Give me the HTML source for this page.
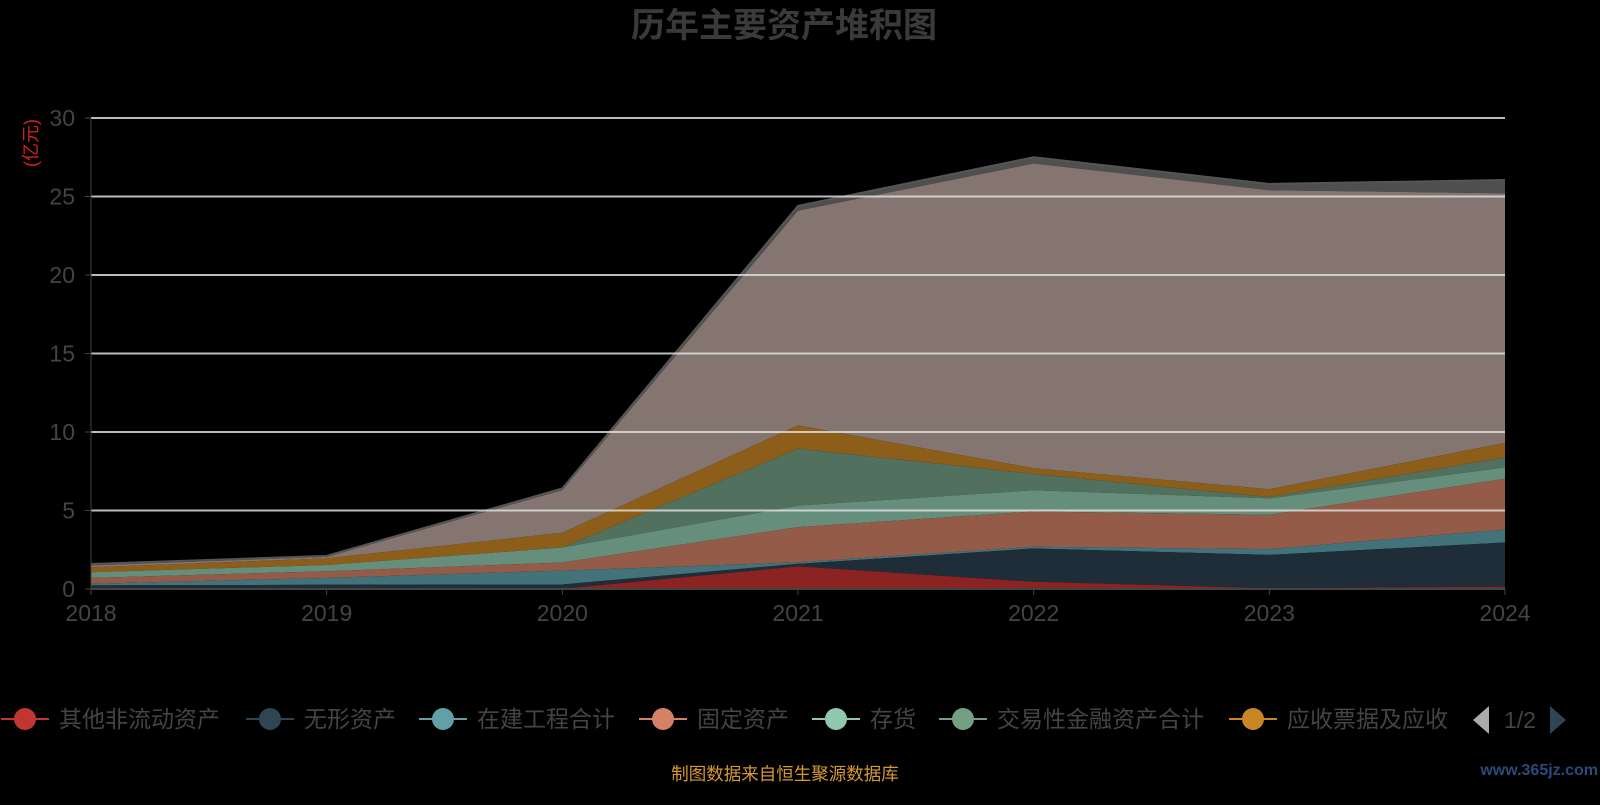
<!DOCTYPE html>
<html><head><meta charset="utf-8"><style>
body{margin:0;background:#000;width:1600px;height:800px;overflow:hidden;font-family:"Liberation Sans","Noto Sans CJK SC",sans-serif}
</style></head><body>
<svg id="s" width="1600" height="800" xmlns="http://www.w3.org/2000/svg" font-family="Liberation Sans, Noto Sans CJK SC, sans-serif">
<text x="784" y="37" text-anchor="middle" font-size="34" font-weight="bold" fill="#3a3a3a">历年主要资产堆积图</text>
<text transform="translate(37,143) rotate(-90)" text-anchor="middle" font-size="18" fill="#d42020">(亿元)</text>
<g id="areas"></g>
<g id="grid"></g>
<text x="785" y="780" text-anchor="middle" font-size="17.5" fill="#d49a30">制图数据来自恒生聚源数据库</text>
<text x="1598" y="775" text-anchor="end" font-size="16" font-weight="bold" fill="#2a4a7a">www.365jz.com</text>
<g id="legend" font-size="23" fill="#444"></g>
<polygon points="1473,720 1489,706 1489,734" fill="#aaa"/>
<text x="1520" y="728" text-anchor="middle" font-size="23" fill="#444">1/2</text>
<polygon points="1566,720 1550,706 1550,734" fill="#2f4554"/>
</svg>
<script>
const X=i=>91+i*235.67, Y=v=>589-v*15.7;
const L=[
[0.05,0.05,0.02,1.44,0.46,0.05,0.15],
[0.23,0.27,0.29,1.6,2.58,2.17,2.96],
[0.33,0.71,1.17,1.7,2.69,2.54,3.79],
[0.71,1.13,1.69,3.94,4.94,4.73,7.02],
[1.07,1.53,2.64,5.31,6.29,5.77,7.75],
[1.07,1.53,2.64,8.94,7.33,5.85,8.38],
[1.38,1.95,3.58,10.42,7.69,6.35,9.31],
[1.5,2.05,6.3,24.1,27.1,25.4,25.2],
[1.59,2.11,6.4,24.4,27.5,25.8,26.05]];
const C=['#8b2323','#1f2d38','#42727a','#935b48','#658f7c','#52705e','#8c5e1a','#857570','#4f4f4f'];
let h='';
for(let k=L.length-1;k>=0;k--){
 let p=L[k].map((v,i)=>X(i)+','+Y(v));
 let b=k>0?L[k-1].map((v,i)=>X(i)+','+Y(v)).reverse():[X(6)+','+589,X(0)+','+589];
 h+=`<polygon points="${p.concat(b).join(' ')}" fill="${C[k]}"/>`;
}
h+=`<polyline points="${L[8].map((v,i)=>X(i)+','+Y(v)).join(' ')}" fill="none" stroke="#555" stroke-width="2"/>`;
document.getElementById('areas').innerHTML=h;
let g='';
for(let v=5;v<=30;v+=5)g+=`<line x1="91" x2="1505" y1="${Y(v)}" y2="${Y(v)}" stroke="#ddd" stroke-opacity="0.85" stroke-width="2"/>`;
g+=`<line x1="91" x2="91" y1="118" y2="589" stroke="#444"/><line x1="91" x2="1505" y1="589" y2="589" stroke="#444" stroke-width="2"/>`;
for(let v=0;v<=30;v+=5)g+=`<line x1="85" x2="91" y1="${Y(v)}" y2="${Y(v)}" stroke="#444"/><text x="75" y="${Y(v)+8}" text-anchor="end" font-size="23" fill="#444">${v}</text>`;
for(let i=0;i<7;i++)g+=`<line x1="${X(i)}" x2="${X(i)}" y1="589" y2="595" stroke="#444"/><text x="${X(i)}" y="621" text-anchor="middle" font-size="23" fill="#444">${2018+i}</text>`;
document.getElementById('grid').innerHTML=g;
const LG=[['其他非流动资产','#c23531',0],['无形资产','#2f4554',245],['在建工程合计','#61a0a8',418],['固定资产','#d48265',638],['存货','#91c7ae',811],['交易性金融资产合计','#749f83',938],['应收票据及应收','#ca8622',1228]];
let l='';
for(const [t,c,x] of LG){l+=`<line x1="${x+1}" x2="${x+49}" y1="719" y2="719" stroke="${c}" stroke-width="2"/><circle cx="${x+25}" cy="719" r="11" fill="${c}"/><text x="${x+59}" y="727">${t}</text>`;}
document.getElementById('legend').innerHTML=l;
</script>
</body></html>
